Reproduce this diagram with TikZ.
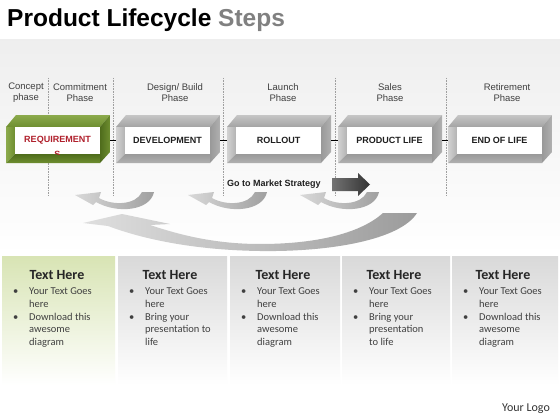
\documentclass[tikz,border=0pt]{standalone}
\usepackage{fontspec}
\setmainfont{Liberation Sans}
\newfontfamily\carlitofont{Carlito}
\definecolor{txtgray}{HTML}{404040}
\definecolor{reqred}{HTML}{B0202C}
\definecolor{grnpale}{HTML}{D8E4B4}
\definecolor{grnlight}{HTML}{8CAA4C}
\definecolor{grnmid}{HTML}{6E8E30}
\definecolor{grndark}{HTML}{4F6C1C}
\tikzset{
	grn-top/.style={top color=grnlight, bottom color=grnmid},
	grn-left/.style={left color=grnlight, right color=grnmid},
	grn-bot/.style={top color=grndark, bottom color=grnmid},
	grn-right/.style={left color=grndark, right color=grnmid},
	gry-top/.style={top color=gray!45, bottom color=gray!72},
	gry-left/.style={left color=gray!35, right color=gray!60},
	gry-bot/.style={top color=gray!80, bottom color=gray!62},
	gry-right/.style={left color=gray!80, right color=gray!62},
	grn-label/.style={text=reqred},
	gry-label/.style={text=black!88},
	grn-panel/.style={top color=grnpale, bottom color=white},
	gry-panel/.style={top color=gray!30, bottom color=white},
	inner face/.style={fill=white, minimum width=85pt, minimum height=27pt, inner sep=0pt,
		font=\fontsize{9}{10}\selectfont\bfseries},
	phase/.style={align=center, font=\fontsize{9.5}{11}\selectfont, text=txtgray},
	divider/.style={gray!75, densely dotted, line width=0.6pt},
	link/.style={line width=1pt, black},
	swoosh/.style={left color=gray!30, right color=gray!75},
	bigswoosh/.style={left color=gray!25, right color=gray!78},
	mktarrow/.style={left color=black!55, right color=black!80},
	panelhead/.style={font=\carlitofont\fontsize{14}{16}\selectfont\bfseries, text=black!85},
	bullets/.style={anchor=north west, inner sep=0pt,
		font=\carlitofont\fontsize{10.5}{12.7}\selectfont, text=txtgray},
}
\begin{document}
\begin{tikzpicture}[x=1pt, y=-1pt]
	\useasboundingbox (0,0) rectangle (560,420);
	\fill[white] (0,0) rectangle (560,420);
	\path[top color=gray!13, bottom color=white] (0,40) rectangle (560,255);
	
	\node[anchor=base west, inner sep=0pt, font=\fontsize{24.5}{28}\selectfont\bfseries] (title) at (7,27)
		{Product Lifecycle \textcolor{black!50}{Steps}};
	
	% phase dividers and phase names
	\foreach \dx in {48,113,223,335,446}
		\draw[divider] (\dx,78) -- (\dx,195);
	\foreach \px/\nm/\txt in {26/pconcept/{Concept\\phase}, 80/pcommit/{Commitment\\Phase},
		175/pdesign/{Design/ Build\\Phase}, 283/plaunch/{Launch\\Phase},
		390/psales/{Sales\\Phase}, 507/pretire/{Retirement\\Phase}}
		\node[phase] (\nm) at (\px,92.5) {\txt};
	
	% the five steps
	\foreach \bx/\fc/\nm/\lbl in {6/grn/req/REQUIREMENT, 116/gry/dev/DEVELOPMENT, 227/gry/roll/ROLLOUT,
		338/gry/prod/PRODUCT LIFE, 448/gry/eol/END OF LIFE} {
		\path[\fc-top] (\bx,127) -- (\bx+10,115) -- (\bx+104,115) -- (\bx+94,127) -- cycle;
		\path[\fc-left] (\bx,127) -- (\bx+9,127) -- (\bx+9,154) -- (\bx,163) -- cycle;
		\path[\fc-bot] (\bx,163) -- (\bx+9,154) -- (\bx+94,154) -- (\bx+94,163) -- cycle;
		\path[\fc-right] (\bx+94,127) -- (\bx+104,115) -- (\bx+104,152) -- (\bx+94,163) -- cycle;
		\node[inner face, \fc-label] (\nm) at (\bx+51.5,140.5) {\lbl};
	}
	\begin{scope}
		\clip (15,127) rectangle (100,154);
		\node[font=\fontsize{9}{10}\selectfont\bfseries, text=reqred] (reqs) at (57.5,154.5) {S};
	\end{scope}
	\foreach \a/\b in {req/dev, dev/roll, roll/prod, prod/eol}
		\draw[link] ([xshift=10pt]\a.east) -- ([xshift=-9pt]\b.west);
	
	% loop-back arrows
	\foreach \t in {75,188,300}
		\path[swoosh] (\t+79,192) -- (\t+67,192) .. controls (\t+61,205) and (\t+38,206) .. (\t+24,198)
			-- (\t+26,192) -- (\t,195) -- (\t+18,205) -- (\t+21,202)
			.. controls (\t+42,214) and (\t+75,211) .. (\t+79,192) -- cycle;
	\path[bigswoosh] (83,223) -- (122,214) -- (170,224) -- (150,225)
		.. controls (180,235) and (215,244) .. (260,244)
		.. controls (320,244) and (362,232) .. (383,213) -- (417,213)
		.. controls (400,240) and (330,252) .. (260,251)
		.. controls (190,250) and (140,238) .. (108,226) -- cycle;
	
	\node[font=\fontsize{9}{10}\selectfont\bfseries, text=black!88] (gtm) at (274,184) {Go to Market Strategy};
	\path[mktarrow] (332,178) -- (358,178) -- (358,173) -- (370,184.5) -- (358,196) -- (358,191) -- (332,191) -- cycle;
	
	% text panels
	\foreach \pl/\pr/\fc in {2/115/grn, 118/227/gry, 230/340/gry, 342/450/gry, 452/558/gry}
		\path[\fc-panel] (\pl,256) rectangle (\pr,385);
	\foreach \hx/\nm in {57/h1, 170/h2, 283/h3, 394/h4, 503/h5}
		\node[panelhead] (\nm) at (\hx,275.5) {Text Here};
	\node[bullets] (t1) at (13,285.6) {\begin{tabular}{@{}p{16pt}@{}l@{}}\textbullet & Your Text Goes\\ & here\\
		\textbullet & Download this\\ & awesome\\ & diagram\end{tabular}};
	\node[bullets] (t2) at (129,285.6) {\begin{tabular}{@{}p{16pt}@{}l@{}}\textbullet & Your Text Goes\\ & here\\
		\textbullet & Bring your\\ & presentation to\\ & life\end{tabular}};
	\node[bullets] (t3) at (241,285.6) {\begin{tabular}{@{}p{16pt}@{}l@{}}\textbullet & Your Text Goes\\ & here\\
		\textbullet & Download this\\ & awesome\\ & diagram\end{tabular}};
	\node[bullets] (t4) at (353,285.6) {\begin{tabular}{@{}p{16pt}@{}l@{}}\textbullet & Your Text Goes\\ & here\\
		\textbullet & Bring your\\ & presentation\\ & to life\end{tabular}};
	\node[bullets] (t5) at (463,285.6) {\begin{tabular}{@{}p{16pt}@{}l@{}}\textbullet & Your Text Goes\\ & here\\
		\textbullet & Download this\\ & awesome\\ & diagram\end{tabular}};
	
	\node[font=\carlitofont\fontsize{12}{14}\selectfont, text=black!80] (logo) at (526,409) {Your Logo};
\end{tikzpicture}
\end{document}
